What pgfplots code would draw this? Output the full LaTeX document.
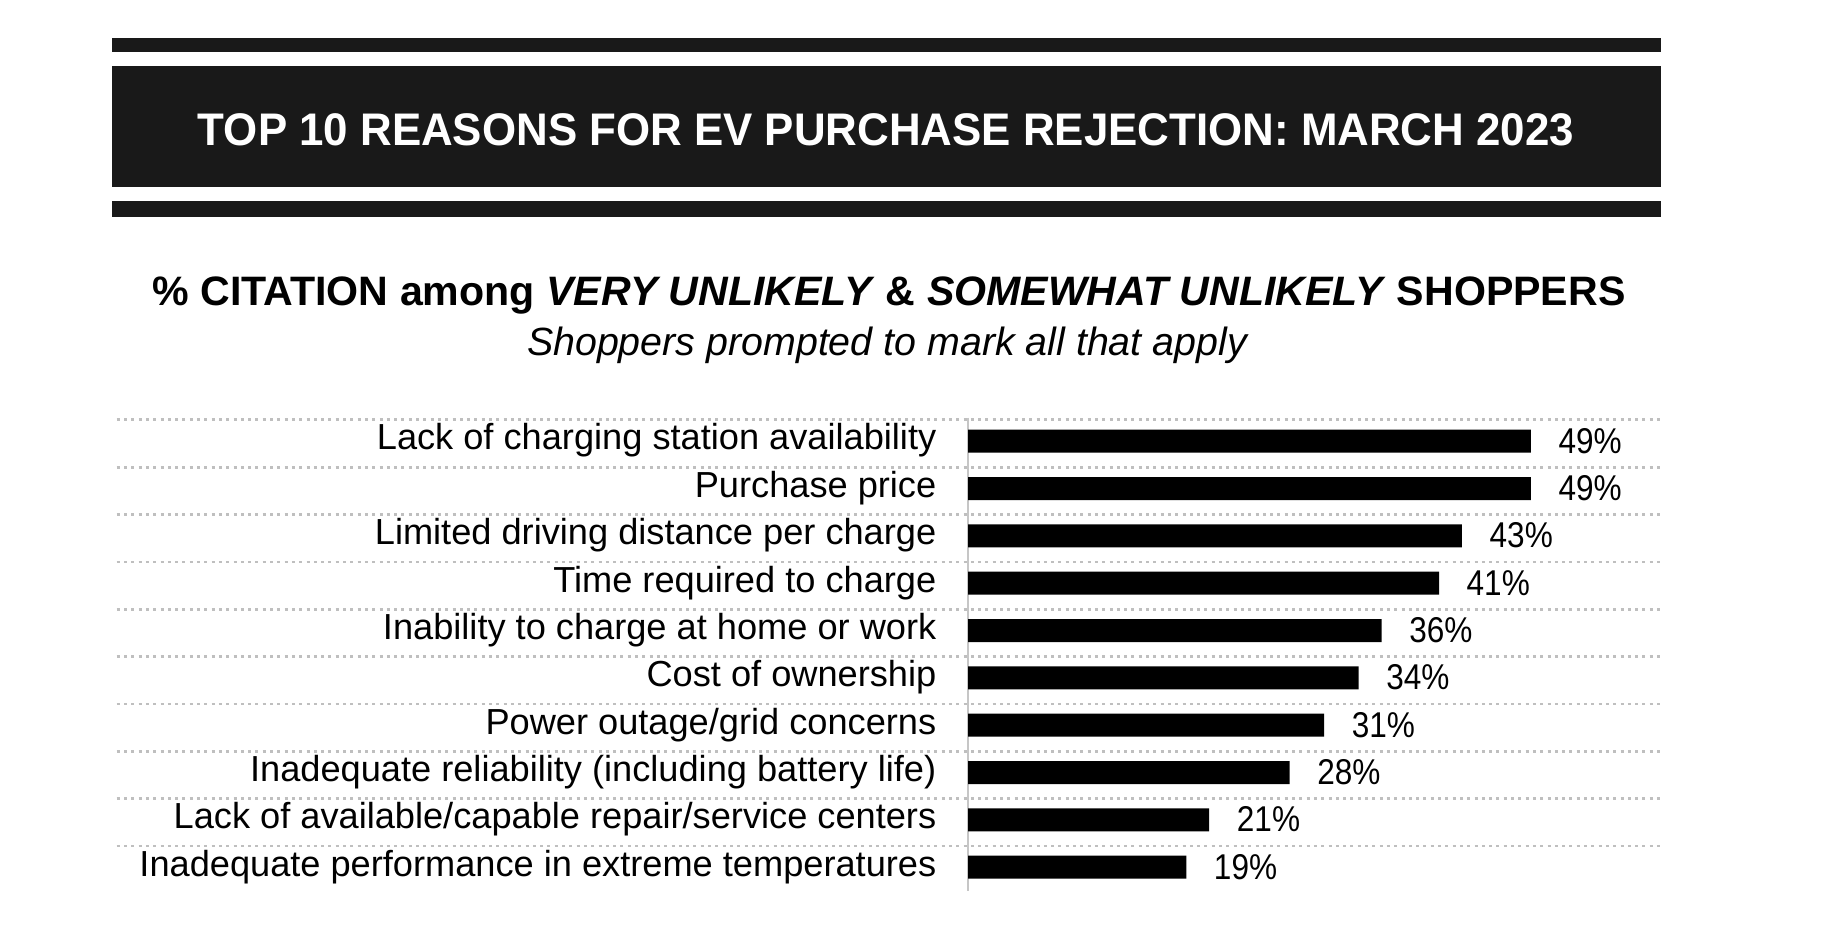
\documentclass[border=0pt]{standalone}
\usepackage{pgfplots}
\pgfplotsset{compat=1.18}
\usepackage{fontspec}
\setmainfont{Liberation Sans}
\newfontfamily\valfont[FakeStretch=0.88]{Liberation Sans}
\newfontfamily\titlefont[FakeStretch=0.96]{Liberation Sans}
\begin{document}
\begin{tikzpicture}
\path[use as bounding box] (0,0) rectangle (183mm,92.6mm);
\fill[black!90] (11.2mm,87.35mm) rectangle (166.1mm,88.75mm);
\fill[black!90] (11.2mm,73.85mm) rectangle (166.1mm,85.95mm);
\fill[black!90] (11.2mm,70.85mm) rectangle (166.1mm,72.5mm);
\node[anchor=base, text=white, font=\titlefont\fontsize{13}{15}\selectfont\bfseries, inner sep=0pt] at (88.6mm,78.0mm) {TOP 10 REASONS FOR EV PURCHASE REJECTION: MARCH 2023};
\node[anchor=base, font=\fontsize{11.7}{14}\selectfont\bfseries, inner sep=0pt] at (88.9mm,62.0mm) {\% CITATION among \textit{VERY UNLIKELY} \& \textit{SOMEWHAT UNLIKELY} SHOPPERS};
\node[anchor=base, font=\fontsize{11.2}{13}\selectfont\itshape, inner sep=0pt] at (88.7mm,57.0mm) {Shoppers prompted to mark all that apply};
\begin{axis}[
 at={(96.8mm,3.51mm)}, anchor=south west,
 width=69.5mm, height=47.34mm, scale only axis,
 xbar, bar width=2.3mm, bar shift=0pt,
 xmin=0, xmax=60.5, ymin=-0.5, ymax=9.5, y dir=reverse,
 axis x line=none, axis y line=left,
 axis line style={-, draw=gray!45, line width=0.2mm},
 ytick={0,...,9},
 yticklabels={Lack of charging station availability, Purchase price, Limited driving distance per charge, Time required to charge, Inability to charge at home or work, Cost of ownership, Power outage/grid concerns, Inadequate reliability (including battery life), Lack of available/capable repair/service centers, Inadequate performance in extreme temperatures},
 major tick length=0pt,
 yticklabel style={anchor=base east, inner sep=0pt, xshift=-3.1mm, yshift=-0.88mm, font=\fontsize{10.3}{12}\selectfont},
 /pgf/number format/assume math mode=true,
 nodes near coords={\pgfmathprintnumber{\pgfplotspointmeta}\%},
 point meta=x,
 nodes near coords style={anchor=base west, inner sep=0pt, xshift=2.7mm, yshift=-1.2mm, font=\valfont\fontsize{10.2}{12}\selectfont},
 clip=false,
]
\pgfplotsinvokeforeach{-0.45,0.55,...,8.55}{\draw[gray!50, line width=0.28mm, dash pattern=on 0.3mm off 0.43mm] (axis cs:-74.1,#1) -- (axis cs:60.5,#1);}
\addplot[fill=black, draw=none] coordinates {(49,0) (49,1) (43,2) (41,3) (36,4) (34,5) (31,6) (28,7) (21,8) (19,9)};
\end{axis}
\end{tikzpicture}
\end{document}
